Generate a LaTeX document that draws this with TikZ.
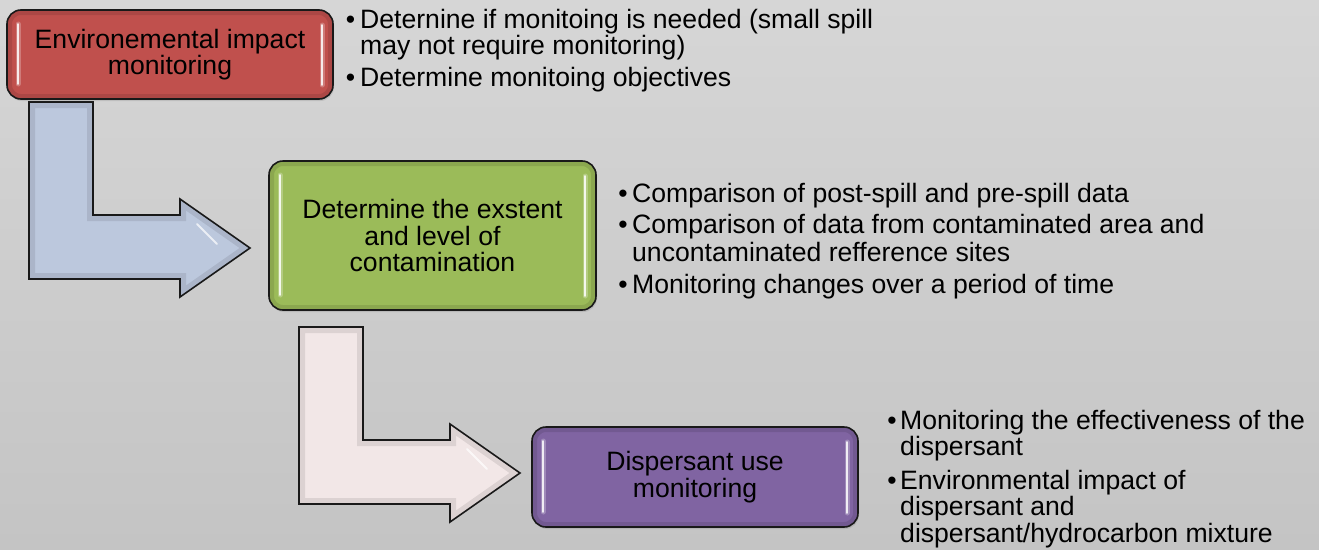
\documentclass[tikz,border=0pt]{standalone}
\usepackage{fontspec}
\setmainfont{Liberation Sans}
\usetikzlibrary{shadows}
\definecolor{bgtop}{RGB}{214,214,214}
\definecolor{bgbot}{RGB}{196,196,196}
\definecolor{redbox}{RGB}{192,80,77}
\definecolor{greenbox}{RGB}{155,187,89}
\definecolor{purplebox}{RGB}{128,100,162}
\definecolor{arrowblue}{RGB}{188,200,221}
\definecolor{arrowpink}{RGB}{242,231,231}
\definecolor{edge}{RGB}{25,25,25}
\newcommand\txtfont{\fontsize{26.6}{26.5}\selectfont}
\begin{document}
\begin{tikzpicture}[x=1pt,y=-1pt,
  txt/.style={anchor=base west, inner sep=0pt, font=\txtfont, text=black},
  bul/.style={anchor=base, inner sep=0pt, font=\txtfont, text=black},
  box/.style={draw=edge, line width=1.6pt, rounded corners=14pt, align=center,
    font=\txtfont, text=black, inner sep=0pt,
    drop shadow={shadow xshift=1pt, shadow yshift=-2pt, opacity=.25},
    path picture={
      \draw[line width=10pt, black, opacity=.10, rounded corners=14pt]
        (path picture bounding box.south west) rectangle (path picture bounding box.north east);
      \draw[white, line width=5pt, opacity=.25, line cap=round]
        ([xshift=11pt,yshift=-14pt]path picture bounding box.north west) --
        ([xshift=11pt,yshift=15pt]path picture bounding box.south west);
      \draw[white, line width=1.8pt, opacity=.85, line cap=round]
        ([xshift=11pt,yshift=-14pt]path picture bounding box.north west) --
        ([xshift=11pt,yshift=15pt]path picture bounding box.south west);
      \draw[white, line width=5pt, opacity=.25, line cap=round]
        ([xshift=-11pt,yshift=-15pt]path picture bounding box.north east) --
        ([xshift=-11pt,yshift=14pt]path picture bounding box.south east);
      \draw[white, line width=1.8pt, opacity=.85, line cap=round]
        ([xshift=-11pt,yshift=-15pt]path picture bounding box.north east) --
        ([xshift=-11pt,yshift=14pt]path picture bounding box.south east);
    }},
  arrowline/.style={draw=edge, line width=1.6pt, line join=miter},
  bevel/.style={line width=12pt, black, opacity=.09, line join=miter},
  glint/.style={white, line width=2pt, opacity=.7, line cap=round}
]
\useasboundingbox (0,0) rectangle (1319,549);
\shade[top color=bgtop, bottom color=bgbot] (0,0) rectangle (1319,549);

% bent arrow 1
\fill[arrowblue] (29,102) -- (93,102) -- (93,215) -- (180,215) -- (180,199) -- (250,248) -- (180,297) -- (180,279) -- (29,279) -- cycle;
\begin{scope}
\clip (29,102) -- (93,102) -- (93,215) -- (180,215) -- (180,199) -- (250,248) -- (180,297) -- (180,279) -- (29,279) -- cycle;
\draw[bevel] (29,102) -- (93,102) -- (93,215) -- (180,215) -- (180,199) -- (250,248) -- (180,297) -- (180,279) -- (29,279) -- cycle;
\end{scope}
\draw[arrowline] (29,102) -- (93,102) -- (93,215) -- (180,215) -- (180,199) -- (250,248) -- (180,297) -- (180,279) -- (29,279) -- cycle;
\draw[glint] (197,224) -- (217,244);

% bent arrow 2
\fill[arrowpink] (299,327) -- (363,327) -- (363,440) -- (450,440) -- (450,424) -- (520,473) -- (450,522) -- (450,504) -- (299,504) -- cycle;
\begin{scope}
\clip (299,327) -- (363,327) -- (363,440) -- (450,440) -- (450,424) -- (520,473) -- (450,522) -- (450,504) -- (299,504) -- cycle;
\draw[bevel] (299,327) -- (363,327) -- (363,440) -- (450,440) -- (450,424) -- (520,473) -- (450,522) -- (450,504) -- (299,504) -- cycle;
\end{scope}
\draw[arrowline] (299,327) -- (363,327) -- (363,440) -- (450,440) -- (450,424) -- (520,473) -- (450,522) -- (450,504) -- (299,504) -- cycle;
\draw[glint] (467,449) -- (487,469);

% boxes
\node[box, fill=redbox, minimum width=326pt, minimum height=89pt] (b1) at (170,54.5)
  {Environemental impact\\monitoring};
\node[box, fill=greenbox, minimum width=327pt, minimum height=149pt] (b2) at (432.5,235.5)
  {Determine the exstent\\and level of\\contamination};
\node[box, fill=purplebox, minimum width=326pt, minimum height=100pt] (b3) at (695,477)
  {Dispersant use\\monitoring};

% bullet texts 1
\node[bul] (p1a) at (350.5,28) {•};
\node[txt] (t1a) at (360,28) {Deternine if monitoing is needed (small spill};
\node[txt] (t1b) at (360,54) {may not require monitoring)};
\node[bul] (p1b) at (350.5,86) {•};
\node[txt] (t1c) at (360,86) {Determine monitoing objectives};

% bullet texts 2
\node[bul] (p2a) at (623,202) {•};
\node[txt] (t2a) at (632,202) {Comparison of post-spill and pre-spill data};
\node[bul] (p2b) at (623,233) {•};
\node[txt] (t2b) at (632,233) {Comparison of data from contaminated area and};
\node[txt] (t2c) at (632,261) {uncontaminated refference sites};
\node[bul] (p2c) at (623,293) {•};
\node[txt] (t2d) at (632,293) {Monitoring changes over a period of time};

% bullet texts 3
\node[bul] (p3a) at (892,429) {•};
\node[txt] (t3a) at (900,429) {Monitoring the effectiveness of the};
\node[txt] (t3b) at (900,455) {dispersant};
\node[bul] (p3b) at (892,489) {•};
\node[txt] (t3c) at (900,489) {Environmental impact of};
\node[txt] (t3d) at (900,515) {dispersant and};
\node[txt] (t3e) at (900,542) {dispersant/hydrocarbon mixture};
\end{tikzpicture}
\end{document}
